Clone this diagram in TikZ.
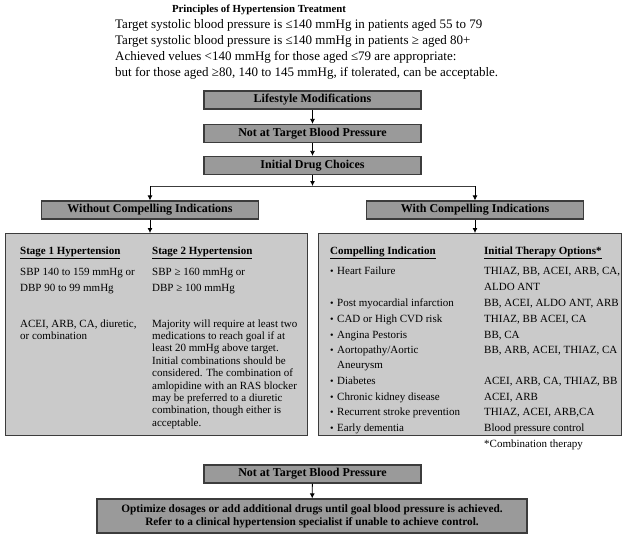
\documentclass[tikz,border=0pt]{standalone}
\usepackage{fontspec}
\setmainfont{Liberation Serif}
\usetikzlibrary{arrows.meta}
\definecolor{edge}{HTML}{3C3C3C}
\definecolor{boxgray}{HTML}{9A9A9A}
\definecolor{panelgray}{HTML}{CACACA}
\begin{document}
\begin{tikzpicture}[x=1pt,y=-1pt,
  box/.style={draw=edge, fill=boxgray, line width=1.2pt, minimum width=217pt, minimum height=18pt, inner sep=0pt, font=\fontsize{12}{14}\selectfont\bfseries},
  panel/.style={draw=edge, fill=panelgray, line width=1.2pt, anchor=north west, inner sep=0pt},
  txt/.style={anchor=base west, inner sep=0pt, font=\fontsize{11}{12.4}\selectfont},
  hd/.style={txt, font=\fontsize{11}{12.4}\selectfont\bfseries},
  top/.style={anchor=base west, inner sep=0pt, font=\fontsize{13}{15}\selectfont},
  arr/.style={-{Latex[length=5pt,width=5pt]}, line width=0.8pt, draw=black},
  ln/.style={line width=0.8pt, draw=edge},
]
\useasboundingbox (0,0) rectangle (625,536);

% title and notes
\node[anchor=base, inner sep=0pt, font=\fontsize{10.8}{12}\selectfont\bfseries] (title) at (259,12) {Principles of Hypertension Treatment};
\node[top] (t1) at (115,28.5) {Target systolic blood pressure is ≤140 mmHg in patients aged 55 to 79};
\node[top] (t2) at (115,44.5) {Target systolic blood pressure is ≤140 mmHg in patients ≥ aged 80+};
\node[top] (t3) at (115,60.5) {Achieved velues <140 mmHg for those aged ≤79 are appropriate:};
\node[top] (t4) at (115,76) {but for those aged ≥80, 140 to 145 mmHg, if tolerated, can be acceptable.};

% main flow boxes
\node[box] (b1) at (312.5,100) {Lifestyle Modifications};
\node[box] (b2) at (312.5,133.5) {Not at Target Blood Pressure};
\node[box] (b3) at (312.5,165.5) {Initial Drug Choices};
\coordinate (split) at (312.5,186);
\node[box] (wo) at (150,210) {Without Compelling Indications};
\node[box] (wi) at (475,210) {With Compelling Indications};

\draw[arr] (b1) -- (b2);
\draw[arr] (b2) -- (b3);
\draw[arr] (b3) -- (split);
\draw[ln] (wo.north |- split) -- (wi.north |- split);
\draw[arr] (wo.north |- split) -- (wo.north);
\draw[arr] (wi.north |- split) -- (wi.north);

% panels
\node[panel, minimum width=302pt, minimum height=202pt] (lp) at (5,233) {};
\node[panel, minimum width=303pt, minimum height=202pt] (rp) at (318,233) {};
\draw[arr] (wo.south) -- (wo.south |- lp.north);
\draw[arr] (wi.south) -- (wi.south |- rp.north);

% left panel contents
\node[hd] (s1) at (20,254) {\underline{Stage 1 Hypertension}};
\node[hd] (s2) at (152,254) {\underline{Stage 2 Hypertension}};
\node[txt] (s1a) at (20,275) {SBP 140 to 159 mmHg or};
\node[txt] (s1b) at (20,291) {DBP 90 to 99 mmHg};
\node[txt] (s2a) at (152,275) {SBP ≥ 160 mmHg or};
\node[txt] (s2b) at (152,291) {DBP ≥ 100 mmHg};
\node[txt] (s1c) at (20,327) {ACEI, ARB, CA, diuretic,};
\node[txt] (s1d) at (20,339.4) {or combination};
\foreach \t [count=\i] in {Majority will require at least two,
  medications to reach goal if at,
  least 20 mmHg above target.,
  Initial combinations should be,
  considered. The combination of,
  amlopidine with an RAS blocker,
  may be preferred to a diuretic,
  {combination, though either is},
  acceptable.}
  \node[txt] (m\i) at (152,{327+12.4*(\i-1)}) {\t};

% right panel contents
\node[hd] (ci) at (330,254) {\underline{Compelling Indication}};
\node[hd] (it) at (484,254) {\underline{Initial Therapy Options*}};
\foreach \y/\a/\b [count=\i] in {
  274/Heart Failure/{THIAZ, BB, ACEI, ARB, CA,},
  306/Post myocardial infarction/{BB, ACEI, ALDO ANT, ARB},
  322/CAD or High CVD risk/{THIAZ, BB ACEI, CA},
  338/Angina Pestoris/{BB, CA},
  353/Aortopathy\slash Aortic/{BB, ARB, ACEI, THIAZ, CA},
  384/Diabetes/{ACEI, ARB, CA, THIAZ, BB},
  400/Chronic kidney disease/{ACEI, ARB},
  415/Recurrent stroke prevention/{THIAZ, ACEI, ARB,CA},
  431/Early dementia/Blood pressure control}
{
  \node[txt, font=\fontsize{10}{10}\selectfont] (bu\i) at (330,\y) {•};
  \node[txt] (ind\i) at (337,\y) {\a};
  \node[txt] (th\i) at (484,\y) {\b};
}
\node[txt] (ald) at (484,290) {ALDO ANT};
\node[txt] (aneu) at (337,368) {Aneurysm};
\node[txt] (comb) at (484,447) {*Combination therapy};

% bottom
\node[box] (b4) at (312.5,474) {Not at Target Blood Pressure};
\node[box, minimum width=430pt, minimum height=34pt, align=center, font=\fontsize{11.3}{13}\selectfont\bfseries] (b5) at (312,516) {Optimize dosages or add additional drugs until goal blood pressure is achieved.\\Refer to a clinical hypertension specialist if unable to achieve control.};
\draw[arr] (b4) -- (b5);
\end{tikzpicture}
\end{document}
